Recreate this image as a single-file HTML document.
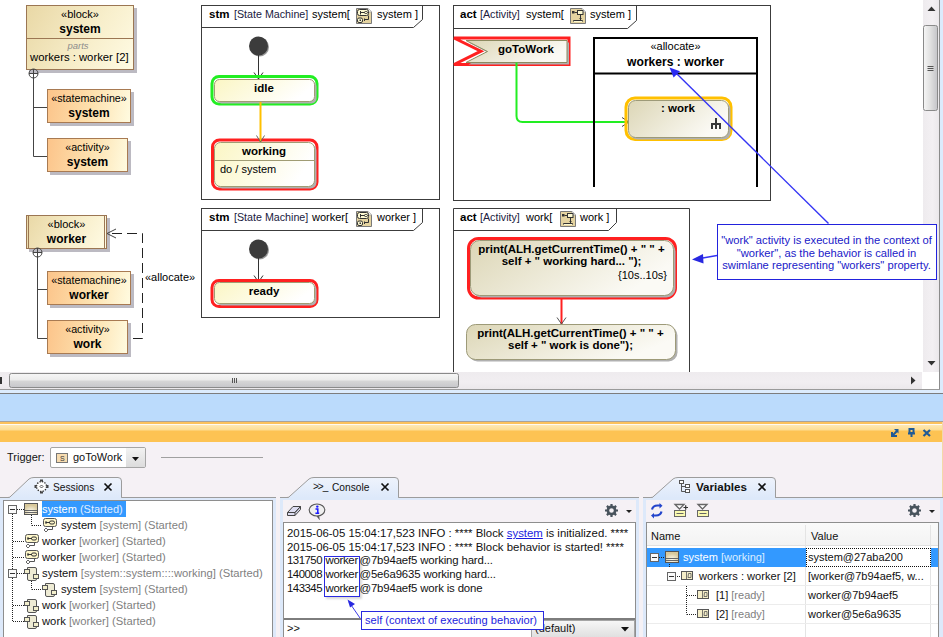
<!DOCTYPE html>
<html><head><meta charset="utf-8">
<style>
*{box-sizing:border-box}
html,body{margin:0;padding:0}
body{width:943px;height:637px;overflow:hidden;position:relative;background:#f5f1f5;font-family:"Liberation Sans",sans-serif;color:#000}
.a{position:absolute}
.t{position:absolute;white-space:nowrap;line-height:1}
.blk{position:absolute;border:1px solid #9b7653;background:linear-gradient(120deg,#e9d8a6 0%,#f8efcc 60%,#fffbe4 100%);box-shadow:3px 3px 0 #bcbac2}
.org{position:absolute;border:1px solid #a87a52;background:linear-gradient(100deg,#fcc48a 0%,#fde2b0 55%,#fffbe0 100%);box-shadow:3px 3px 0 #bcbac2}
.st{position:absolute;border:1px solid #9a9a7a;border-radius:6px;background:linear-gradient(100deg,#f4efbf 0%,#fbf8da 60%,#ffffff 100%);box-shadow:2px 2px 0 #a8a8a8}
.act{position:absolute;border:1px solid #9d9a78;border-radius:8px;background:linear-gradient(110deg,#e0dbbd 0%,#f0ecd8 60%,#fbfaf4 100%);box-shadow:2px 2px 0 #a8a8a8}
.frm{position:absolute;border:1px solid #444;background:transparent}
.c{text-align:center}
.b{font-weight:bold}
</style></head><body>
<!-- diagram canvas -->
<div class="a" style="left:0;top:0;width:923px;height:373px;background:#fff"></div>

<!-- block system -->
<div class="blk" style="left:26px;top:5px;width:108px;height:65px"></div>
<div class="a" style="left:26px;top:38px;width:108px;height:1px;background:#9b7653"></div>
<div class="t c" style="left:26px;top:9px;width:108px;font-size:11px">«block»</div>
<div class="t c b" style="left:26px;top:23px;width:108px;font-size:12px">system</div>
<div class="t c" style="left:24px;top:41px;width:108px;font-size:9.5px;font-style:italic;color:#8c8c8c">parts</div>
<div class="t" style="left:30px;top:52px;font-size:11.3px">workers : worker [2]</div>

<!-- statemachine system -->
<div class="org" style="left:47px;top:89px;width:84px;height:34px"></div>
<div class="t c" style="left:47px;top:93px;width:84px;font-size:10.7px">«statemachine»</div>
<div class="t c b" style="left:47px;top:107px;width:84px;font-size:12px">system</div>
<!-- activity system -->
<div class="org" style="left:47px;top:138px;width:81px;height:34px"></div>
<div class="t c" style="left:47px;top:142px;width:81px;font-size:10.7px">«activity»</div>
<div class="t c b" style="left:47px;top:156px;width:81px;font-size:12px">system</div>

<!-- block worker -->
<div class="blk" style="left:26px;top:215px;width:81px;height:34px"></div>
<div class="a" style="left:28px;top:216px;width:1px;height:32px;background:#9b7653"></div><div class="a" style="left:104px;top:216px;width:1px;height:32px;background:#9b7653"></div>
<div class="t c" style="left:26px;top:219px;width:81px;font-size:11px">«block»</div>
<div class="t c b" style="left:26px;top:233px;width:81px;font-size:12px">worker</div>
<!-- statemachine worker -->
<div class="org" style="left:47px;top:271px;width:84px;height:34px"></div>
<div class="t c" style="left:47px;top:275px;width:84px;font-size:10.7px">«statemachine»</div>
<div class="t c b" style="left:47px;top:289px;width:84px;font-size:12px">worker</div>
<!-- activity work -->
<div class="org" style="left:47px;top:320px;width:81px;height:34px"></div>
<div class="t c" style="left:47px;top:324px;width:81px;font-size:10.7px">«activity»</div>
<div class="t c b" style="left:47px;top:338px;width:81px;font-size:12px">work</div>
<div class="t" style="left:145px;top:272px;font-size:11px">«allocate»</div>

<svg class="a" style="left:0;top:0" width="943" height="373">
  <!-- containment lines -->
  <g stroke="#444" fill="none" stroke-width="1">
    <circle cx="33.5" cy="73.5" r="4.5"/>
    <line x1="29" y1="73.5" x2="38" y2="73.5"/>
    <line x1="33.5" y1="69" x2="33.5" y2="156.5"/>
    <line x1="33.5" y1="107.5" x2="47" y2="107.5"/>
    <line x1="33.5" y1="156.5" x2="47" y2="156.5"/>
    <circle cx="37.5" cy="252.5" r="4.5"/>
    <line x1="33" y1="252.5" x2="42" y2="252.5"/>
    <line x1="37.5" y1="248" x2="37.5" y2="338.5"/>
    <line x1="37.5" y1="289.5" x2="47" y2="289.5"/>
    <line x1="37.5" y1="338.5" x2="47" y2="338.5"/>
    <path d="M133 338.5 H142.5 V233.5 H108" stroke-dasharray="10,5" stroke="#222"/>
    <path d="M116 229 L107 233.5 L116 238"/>
  </g>
</svg>

<!-- ===== frames ===== -->
<svg class="a" style="left:0;top:0" width="923" height="373">
  <g fill="none" stroke="#3c3c3c" stroke-width="1">
    <rect x="201.5" y="5.5" width="238" height="194"/>
    <path d="M201.5 27.5 H413.5 L422.5 19.5 V5.5"/>
    <rect x="201.5" y="208.5" width="238" height="109"/>
    <path d="M201.5 230.5 H413.5 L422.5 222.5 V208.5"/>
    <rect x="453.5" y="5.5" width="317" height="195"/>
    <path d="M453.5 28.5 H627.5 L636.5 20.5 V5.5"/>
    <path d="M453.5 372 V208.5 H689.5 V372"/>
    <path d="M453.5 230.5 H608.5 L616.5 222.5 V208.5"/>
  </g>
</svg>
<div class="t b" style="left:209px;top:9px;font-size:11.5px">stm</div>
<div class="t" style="left:234px;top:9px;font-size:10.7px;color:#202040">[State Machine]</div>
<div class="t" style="left:312px;top:9px;font-size:11px">system[</div>
<div class="t" style="left:377px;top:9px;font-size:11px">system ]</div>
<div class="t b" style="left:209px;top:212px;font-size:11.5px">stm</div>
<div class="t" style="left:234px;top:212px;font-size:10.7px;color:#202040">[State Machine]</div>
<div class="t" style="left:312px;top:212px;font-size:11px">worker[</div>
<div class="t" style="left:377px;top:212px;font-size:11px">worker ]</div>
<div class="t b" style="left:460px;top:9px;font-size:11.5px">act</div>
<div class="t" style="left:480px;top:9px;font-size:10.7px;color:#202040">[Activity]</div>
<div class="t" style="left:526px;top:9px;font-size:11px">system[</div>
<div class="t" style="left:590px;top:9px;font-size:11px">system ]</div>
<div class="t b" style="left:460px;top:212px;font-size:11.5px">act</div>
<div class="t" style="left:480px;top:212px;font-size:10.7px;color:#202040">[Activity]</div>
<div class="t" style="left:526px;top:212px;font-size:11px">work[</div>
<div class="t" style="left:580px;top:212px;font-size:11px">work ]</div>
<svg class="a" style="left:356px;top:8px" width="16" height="16" viewBox="0 0 16 16"><path d="M0.5 0.5 H12 L15.5 4 V15.5 H0.5 Z" fill="#e4d3a0" stroke="#7a7a7a"/><path d="M12 0.5 V4 H15.5" fill="#fff" stroke="#aaa"/><rect x="1.5" y="1.5" width="11" height="6" rx="2" fill="#fdf9d2" stroke="#333"/><path d="M4.5 3 V6.5 M4.5 4.5 H8.5" stroke="#333" fill="none"/><rect x="8.5" y="3.5" width="3" height="2" rx="1" fill="none" stroke="#333"/><path d="M12.5 7.5 V11.5 H8" stroke="#333" fill="none"/><rect x="1.5" y="10" width="5" height="4.5" rx="1.5" fill="#fdf9d2" stroke="#333"/><rect x="3.5" y="11.5" width="1.5" height="1.5" fill="#333"/><path d="M8.5 10.5 V13" stroke="#333"/></svg><svg class="a" style="left:356px;top:211px" width="16" height="16" viewBox="0 0 16 16"><path d="M0.5 0.5 H12 L15.5 4 V15.5 H0.5 Z" fill="#e4d3a0" stroke="#7a7a7a"/><path d="M12 0.5 V4 H15.5" fill="#fff" stroke="#aaa"/><rect x="1.5" y="1.5" width="11" height="6" rx="2" fill="#fdf9d2" stroke="#333"/><path d="M4.5 3 V6.5 M4.5 4.5 H8.5" stroke="#333" fill="none"/><rect x="8.5" y="3.5" width="3" height="2" rx="1" fill="none" stroke="#333"/><path d="M12.5 7.5 V11.5 H8" stroke="#333" fill="none"/><rect x="1.5" y="10" width="5" height="4.5" rx="1.5" fill="#fdf9d2" stroke="#333"/><rect x="3.5" y="11.5" width="1.5" height="1.5" fill="#333"/><path d="M8.5 10.5 V13" stroke="#333"/></svg><svg class="a" style="left:570px;top:8px" width="16" height="16" viewBox="0 0 16 16"><path d="M0.5 0.5 H12 L15.5 4 V15.5 H0.5 Z" fill="#e4d3a0" stroke="#7a7a7a"/><path d="M12 0.5 V4 H15.5" fill="#fff" stroke="#aaa"/><rect x="2" y="3" width="2.5" height="2.5" fill="#333"/><path d="M4.5 4.5 H7.5" stroke="#333"/><rect x="7.5" y="2.5" width="5.5" height="4" fill="#fdf9d2" stroke="#333"/><path d="M10.5 6.5 V12 M9.5 10.5 H11.5" stroke="#333"/><path d="M3.5 13.5 V12.5 H12.5 V13.5" fill="#fdf9d2" stroke="#333"/><rect x="4" y="13" width="8" height="1" fill="#fdf9d2"/></svg><svg class="a" style="left:560px;top:211px" width="16" height="16" viewBox="0 0 16 16"><path d="M0.5 0.5 H12 L15.5 4 V15.5 H0.5 Z" fill="#e4d3a0" stroke="#7a7a7a"/><path d="M12 0.5 V4 H15.5" fill="#fff" stroke="#aaa"/><rect x="2" y="3" width="2.5" height="2.5" fill="#333"/><path d="M4.5 4.5 H7.5" stroke="#333"/><rect x="7.5" y="2.5" width="5.5" height="4" fill="#fdf9d2" stroke="#333"/><path d="M10.5 6.5 V12 M9.5 10.5 H11.5" stroke="#333"/><path d="M3.5 13.5 V12.5 H12.5 V13.5" fill="#fdf9d2" stroke="#333"/><rect x="4" y="13" width="8" height="1" fill="#fdf9d2"/></svg>
<!-- ===== stm system content ===== -->
<svg class="a" style="left:0;top:0" width="923" height="373">
  <!-- initial nodes -->
  <circle cx="259.5" cy="47" r="9.5" fill="#999"/>
  <circle cx="258.5" cy="46" r="9.5" fill="#3c3c3c"/>
  <line x1="258.5" y1="55" x2="258.5" y2="79" stroke="#333"/>
  <path d="M254 72.5 L258.5 79 L263 72.5" fill="none" stroke="#333"/>
  <circle cx="259.5" cy="250" r="9.5" fill="#999"/>
  <circle cx="258.5" cy="249" r="9.5" fill="#3c3c3c"/>
  <line x1="258.5" y1="258" x2="258.5" y2="282" stroke="#333"/>
  <path d="M254 275.5 L258.5 282 L263 275.5" fill="none" stroke="#333"/>
  <!-- idle -->
  <defs>
    <linearGradient id="gst" x1="0" y1="0" x2="1" y2="0.3"><stop offset="0" stop-color="#fbf6c4"/><stop offset="0.55" stop-color="#fdfbe4"/><stop offset="1" stop-color="#ffffff"/></linearGradient>
    <linearGradient id="gact" x1="0" y1="0" x2="1" y2="0.4"><stop offset="0" stop-color="#dcd6b6"/><stop offset="0.6" stop-color="#efecdc"/><stop offset="1" stop-color="#fbfaf5"/></linearGradient>
  </defs>
  <rect x="212" y="76.5" width="105" height="27.5" rx="7" fill="none" stroke="#22ee22" stroke-width="3"/>
  <rect x="216.5" y="81.5" width="100" height="22" rx="5" fill="#b0b0b0"/>
  <rect x="214.5" y="79.5" width="100" height="22" rx="5" fill="url(#gst)" stroke="#a09c74"/>
  <!-- working -->
  <rect x="212.5" y="140" width="104.5" height="49" rx="7" fill="none" stroke="#ff2020" stroke-width="3"/>
  <rect x="216.5" y="144.5" width="100" height="44" rx="6" fill="#b0b0b0"/>
  <rect x="214.5" y="142.5" width="100" height="44" rx="6" fill="url(#gst)" stroke="#a09c74"/>
  <line x1="214.5" y1="160.5" x2="314.5" y2="160.5" stroke="#a09c74"/>
  <line x1="260.5" y1="102" x2="260.5" y2="142" stroke="#ffc000" stroke-width="2"/>
  <path d="M256.5 135.5 L260.5 142 L264.5 135.5" fill="none" stroke="#666"/>
  <!-- ready -->
  <rect x="212" y="280.5" width="105" height="26" rx="7" fill="none" stroke="#ff2020" stroke-width="3"/>
  <rect x="216.5" y="284.5" width="100" height="21" rx="5" fill="#b0b0b0"/>
  <rect x="214.5" y="282.5" width="100" height="21" rx="5" fill="url(#gst)" stroke="#a09c74"/>

  <!-- goToWork -->
  <path d="M454 38 H569 V64.5 H454 L481 51.2 Z" fill="none" stroke="#ff2020" stroke-width="3"/>
  <path d="M468.5 42.5 H569 V64.5 H468.5 L489.5 53.5 Z" fill="#b0b0b0"/>
  <path d="M466 40.5 H567 V62.5 H466 L487.5 51.5 Z" fill="url(#gact)" stroke="#8c8a60"/>
  <!-- green flow -->
  <path d="M516.5 62.5 V116 Q516.5 122 522.5 122 H628" fill="none" stroke="#22ee22" stroke-width="2"/>
  <path d="M622 117.5 L629 122 L622 126.5" fill="none" stroke="#444"/>
  <!-- swimlane -->
  <path d="M594 187 V38 H757 V187 M594 73.5 H757" fill="none" stroke="#000" stroke-width="2"/>
  <!-- :work -->
  <rect x="626" y="98" width="105" height="41.5" rx="9" fill="none" stroke="#ffc000" stroke-width="3"/>
  <rect x="630.5" y="102.5" width="100" height="37" rx="7" fill="#b0b0b0"/>
  <rect x="628.5" y="100.5" width="100" height="37" rx="7" fill="url(#gact)" stroke="#9d9a78"/>
  <g fill="#383838"><rect x="715" y="118" width="2" height="11"/><rect x="711" y="123" width="10" height="2"/><rect x="711" y="123" width="2" height="6"/><rect x="719" y="123" width="2" height="6"/></g>
  <!-- blue anchor -->
  <line x1="828.5" y1="223.5" x2="676" y2="73" stroke="#3434f4" stroke-width="1.4"/>
  <path d="M669.5 67.5 L680 71.2 L673.6 77.6 Z" fill="#2a2af2"/>

  <!-- work activity -->
  <rect x="468.5" y="238.5" width="207" height="59.5" rx="10" fill="none" stroke="#ff2020" stroke-width="3"/>
  <rect x="472.5" y="242.5" width="203" height="55" rx="9" fill="#b0b0b0"/>
  <rect x="470.5" y="240.5" width="203" height="55" rx="9" fill="url(#gact)" stroke="#9d9a78"/>
  <line x1="561.5" y1="299" x2="561.5" y2="324" stroke="#ff2020" stroke-width="2"/>
  <path d="M557 317.5 L561.5 324 L566 317.5" fill="none" stroke="#555"/>
  <rect x="468.5" y="326.5" width="209" height="35" rx="9" fill="#b0b0b0"/>
  <rect x="466.5" y="324.5" width="209" height="35" rx="9" fill="url(#gact)" stroke="#9d9a78"/>
  <!-- note -->
  <line x1="717" y1="255.5" x2="697" y2="259" stroke="#3434f4" stroke-width="1.3"/>
  <path d="M692 259.5 L703 254 L703.5 263.5 Z" fill="#2828e0"/>
</svg>
<div class="t c b" style="left:214px;top:83px;width:100px;font-size:11.5px">idle</div>
<div class="t c b" style="left:214px;top:146px;width:100px;font-size:11.5px">working</div>
<div class="t" style="left:220px;top:164px;font-size:11px">do / system</div>
<div class="t c b" style="left:214px;top:286px;width:100px;font-size:11.5px">ready</div>
<div class="t b" style="left:498px;top:44px;font-size:11.5px">goToWork</div>
<div class="t c" style="left:594px;top:41px;width:163px;font-size:11px">«allocate»</div>
<div class="t c b" style="left:594px;top:55.5px;width:163px;font-size:12.1px">workers : worker</div>
<div class="t c b" style="left:628px;top:103px;width:100px;font-size:11.5px">: work</div>
<div class="t c b" style="left:470px;top:243px;width:203px;font-size:11.5px;line-height:12px">print(ALH.getCurrentTime() + " " +<br>self + " working hard... ");</div>
<div class="t" style="left:618px;top:270px;font-size:11px">{10s..10s}</div>
<div class="t c b" style="left:466px;top:327px;width:209px;font-size:11.5px;line-height:12px">print(ALH.getCurrentTime() + " " +<br>self + " work is done");</div>

<!-- ===== scrollbars ===== -->
<div class="a" style="left:923px;top:0;width:16px;height:372px;background:linear-gradient(90deg,#eeebee,#f3f0f3 60%,#ebe8eb)"></div>
<svg class="a" style="left:923px;top:0" width="16" height="372">
  <path d="M4.5 11 L8.5 6.5 L12.5 11 Z" fill="#333"/>
  <rect x="0.5" y="25.5" width="14" height="85" rx="2" fill="url(#gthumbv)" stroke="#8a8a8a"/>
  <defs><linearGradient id="gthumbv" x1="0" x2="1"><stop offset="0" stop-color="#f6f6f6"/><stop offset="0.5" stop-color="#e0e0e0"/><stop offset="1" stop-color="#c4c4c8"/></linearGradient>
  <linearGradient id="gthumbh" x1="0" x2="0" y1="0" y2="1"><stop offset="0" stop-color="#f6f6f6"/><stop offset="0.45" stop-color="#ececec"/><stop offset="0.55" stop-color="#d6d6d6"/><stop offset="1" stop-color="#c6c6ca"/></linearGradient></defs>
  <path d="M4.5 66.5 H10.5 M4.5 68.5 H10.5 M4.5 70.5 H10.5" stroke="#555"/>
  <path d="M4.5 361 L8.5 365.5 L12.5 361 Z" fill="#333"/>
</svg>
<div class="a" style="left:0;top:372px;width:922px;height:17px;background:linear-gradient(180deg,#eeebee,#f1eef1 60%,#ebe8eb)"></div>
<div class="a" style="left:922px;top:372px;width:17px;height:17px;background:#fff"></div>
<svg class="a" style="left:0;top:372px" width="922" height="17">
  <rect x="0" y="5" width="2" height="7" fill="#333"/>
  <rect x="9.5" y="1.5" width="449" height="14" rx="2" fill="url(#gthumbh)" stroke="#8a8a8a"/>
  <path d="M232.5 6 V11 M234.5 6 V11 M236.5 6 V11" stroke="#555"/>
  <path d="M911 4.5 L915.5 8.5 L911 12.5 Z" fill="#333"/>
</svg>
<div class="a" style="left:717px;top:224px;width:220px;height:56px;background:#fff;border:1px solid #2222dd"></div>
<div class="t c" style="left:717px;top:234px;width:219px;font-size:11.2px;line-height:12.5px;color:#2020c8">"work" activity is executed in the context of<br>"worker", as the behavior is called in<br>swimlane representing "workers" property.</div>
<div class="a" style="left:939px;top:0;width:1px;height:390px;background:#8c8c8c"></div>
<div class="a" style="left:940px;top:0;width:3px;height:390px;background:#dcebfc"></div>
<div class="a" style="left:0;top:389px;width:940px;height:1px;background:#9a9a9a"></div>
<div class="a" style="left:0;top:390px;width:943px;height:3px;background:#dcecfd"></div>
<div class="a" style="left:0;top:393px;width:943px;height:1px;background:#7d7d7d"></div>
<div class="a" style="left:0;top:394px;width:943px;height:27px;background:#bbdbfc"></div>
<div class="a" style="left:0;top:421px;width:943px;height:1px;background:#a9a39a"></div>
<div class="a" style="left:0;top:422px;width:943px;height:20px;background:linear-gradient(180deg,#fcc25c 0,#fcc25c 2px,#fffaf0 2px,#fffaf0 3px,#fee8b4 3px,#fddd92 8px,#fdc353 9px,#fdc353 100%)"></div>
<!-- panel buttons -->
<svg class="a" style="left:880px;top:420px" width="63" height="25">
  <g fill="none" stroke="#1f5a96" stroke-width="2">
    <path d="M12 12 V16 H17"/>
    <path d="M13 15 L17 11"/>
    <path d="M28.5 9 H34.5 M29.5 9 V13 H33.5 V9 M28 13.5 H35 M31.5 13.5 V17"/>
    <path d="M43.5 10 L50 16 M50 10 L43.5 16" stroke-width="2.2"/>
  </g>
  <path d="M14 9 H18.5 V13.5 Z" fill="#1f5a96"/>
</svg>
<div class="a" style="left:942px;top:422px;width:1px;height:215px;background:#f3d9a8"></div>
<!-- trigger row -->
<div class="t" style="left:7px;top:452px;font-size:11px;color:#111">Trigger:</div>
<div class="a" style="left:50px;top:447px;width:96px;height:21px;border:1px solid #a5a5a5;border-radius:2px;background:#fff"></div>
<div class="a" style="left:126px;top:448px;width:19px;height:19px;background:linear-gradient(180deg,#f2f2f2,#dcdcdc)"></div>
<svg class="a" style="left:126px;top:448px" width="19" height="19"><path d="M6 9 L13 9 L9.5 13 Z" fill="#111"/></svg>
<svg class="a" style="left:56px;top:453px" width="13" height="11"><rect x="0.5" y="0.5" width="11" height="9" fill="#f7dcb0" stroke="#777"/><text x="4" y="8" font-size="7" font-family="Liberation Sans" fill="#333">S</text></svg>
<div class="t" style="left:73px;top:452px;font-size:11px;color:#111">goToWork</div>
<div class="a" style="left:161px;top:457px;width:102px;height:1px;background:#a0a0a0"></div>

<!-- ===== views ===== -->
<!-- Sessions view -->
<div class="a" style="left:0;top:497px;width:276px;height:140px;background:#dde9fa;border-top:1px solid #9c9c9c"></div>
<div class="a" style="left:3px;top:500px;width:270px;height:137px;background:#fff;border:1px solid #8e8e8e;border-bottom:none"></div>
<!-- Console view -->
<div class="a" style="left:280px;top:497px;width:359px;height:140px;background:#dde9fa;border-top:1px solid #9c9c9c"></div>
<div class="a" style="left:283px;top:500px;width:353px;height:22px;background:#f5f1f5"></div>
<div class="a" style="left:283px;top:522px;width:353px;height:115px;background:#fff;border:1px solid #8e8e8e;border-bottom:none"></div>
<div class="a" style="left:284px;top:618px;width:351px;height:2px;background:#7d7d7d"></div>
<!-- Variables view -->
<div class="a" style="left:643px;top:497px;width:300px;height:140px;background:#dde9fa;border-top:1px solid #9c9c9c"></div>
<div class="a" style="left:646px;top:500px;width:294px;height:22px;background:#f5f1f5"></div>
<div class="a" style="left:646px;top:522px;width:293px;height:115px;background:#fff;border:1px solid #8e8e8e;border-bottom:none"></div>

<!-- tabs -->
<svg class="a" style="left:0;top:476px" width="943" height="24">
  <defs><linearGradient id="gtab" x1="0" x2="0" y1="0" y2="1"><stop offset="0" stop-color="#eef3fc"/><stop offset="1" stop-color="#dde9fa"/></linearGradient></defs>
  <path d="M9 22 Q10 21 11 20 L29 3 Q31 1.5 34 1.5 H118 Q121.5 1.5 121.5 5 V22 Z" fill="url(#gtab)"/>
  <path d="M0 21.5 H8 Q10 21.5 11 20 L29 3 Q31 1.5 34 1.5 H118 Q121.5 1.5 121.5 5 V21.5 H276" fill="none" stroke="#9c9c9c"/>
  <path d="M288 22 L309 3 Q311 1.5 314 1.5 H395 Q398.5 1.5 398.5 5 V22 Z" fill="url(#gtab)"/>
  <path d="M280 21.5 H287 Q289 21.5 290 20 L309 3 Q311 1.5 314 1.5 H395 Q398.5 1.5 398.5 5 V21.5 H639" fill="none" stroke="#9c9c9c"/>
  <path d="M652 22 L673 3 Q675 1.5 678 1.5 H772 Q775.5 1.5 775.5 5 V22 Z" fill="url(#gtab)"/>
  <path d="M643 21.5 H651 Q653 21.5 654 20 L673 3 Q675 1.5 678 1.5 H772 Q775.5 1.5 775.5 5 V21.5 H943" fill="none" stroke="#9c9c9c"/>
</svg>
<div class="a" style="left:10px;top:498px;width:112px;height:2px;background:#dde9fa"></div>
<div class="a" style="left:289px;top:498px;width:110px;height:0px;background:#dde9fa"></div>
<!-- Sessions tab -->
<svg class="a" style="left:34px;top:479px" width="16" height="16"><circle cx="7.5" cy="7.5" r="5" fill="#fff" stroke="#333" stroke-width="1.3" stroke-dasharray="1.4,1.2"/><g fill="#444"><rect x="6" y="0.5" width="3" height="2"/><rect x="6" y="12.5" width="3" height="2"/><rect x="0.5" y="6" width="2" height="3"/><rect x="12.5" y="6" width="2" height="3"/></g><path d="M7.5 6 L9 7.5 L7.5 9 L6 7.5 Z" fill="none" stroke="#444" stroke-width="0.9"/></svg>
<div class="t" style="left:53px;top:482.8px;font-size:10.2px;color:#111">Sessions</div>
<svg class="a" style="left:103px;top:482px" width="10" height="10"><path d="M1.5 1.5 L8.5 8.5 M8.5 1.5 L1.5 8.5" stroke="#111" stroke-width="1.7"/></svg>
<!-- Console tab -->
<div class="t" style="left:313px;top:482px;font-size:10px;color:#111;letter-spacing:-1px">&gt;&gt;_</div>
<div class="t" style="left:332px;top:482.8px;font-size:10.2px;color:#111">Console</div>
<svg class="a" style="left:380px;top:482px" width="10" height="10"><path d="M1.5 1.5 L8.5 8.5 M8.5 1.5 L1.5 8.5" stroke="#111" stroke-width="1.7"/></svg>
<!-- Variables tab -->
<svg class="a" style="left:679px;top:480px" width="12" height="14"><path d="M2.5 1 V11.5 H6 M2.5 6.5 H6" fill="none" stroke="#555"/><rect x="0.5" y="0.5" width="4" height="3" fill="#fff" stroke="#555"/><rect x="6.5" y="4.5" width="4" height="3" fill="#fff" stroke="#555"/><rect x="6.5" y="9.5" width="4" height="3" fill="#fff" stroke="#555"/></svg>
<div class="t b" style="left:696px;top:481px;font-size:11.6px;color:#111">Variables</div>
<svg class="a" style="left:757px;top:482px" width="10" height="10"><path d="M1.5 1.5 L8.5 8.5 M8.5 1.5 L1.5 8.5" stroke="#111" stroke-width="1.7"/></svg>
<svg class="a" style="left:0;top:495px" width="280" height="142"><g stroke="#222" stroke-dasharray="1,1" fill="none"><path d="M12.5 19 V126.5 M13 126.5 H24"/><path d="M17 14.5 H24"/><path d="M13 46.5 H24 M13 62.5 H24 M13 110.5 H24"/><path d="M31.5 20 V30.5 M32 30.5 H42"/><path d="M17 78.5 H24"/><path d="M31.5 84 V94.5 M32 94.5 H42"/></g></svg><svg class="a" style="left:8px;top:505px" width="9" height="9"><rect x="0.5" y="0.5" width="8" height="8" fill="#fafafa" stroke="#666"/><path d="M2 4.5 H7" stroke="#333"/></svg><svg class="a" style="left:8px;top:569px" width="9" height="9"><rect x="0.5" y="0.5" width="8" height="8" fill="#fafafa" stroke="#666"/><path d="M2 4.5 H7" stroke="#333"/></svg><svg class="a" style="left:24px;top:503px" width="15" height="13"><defs><radialGradient id="gbi24503" cx="0.5" cy="0.75" r="0.6"><stop offset="0" stop-color="#fffef5"/><stop offset="1" stop-color="#d8c89a"/></radialGradient></defs><rect x="0.5" y="0.5" width="13" height="11" fill="url(#gbi24503)" stroke="#555"/><path d="M1 7.5 H13 M1 9.5 H13" stroke="#666"/></svg><div class="a" style="left:42px;top:501px;width:84px;height:16px;background:#3399ff"></div><div class="t" style="left:42px;top:504px;font-size:11px;color:#fff">system <span style="color:#e0efff">(Started)</span></div><svg class="a" style="left:42px;top:518px" width="16" height="16"><rect x="1.5" y="0.5" width="13" height="8" rx="2" fill="#fdf6c8" stroke="#555"/><path d="M3.5 4.5 H8 M4 3 V6" stroke="#333"/><rect x="7.5" y="3" width="5" height="3" rx="1.5" fill="none" stroke="#333"/><path d="M10.5 8.5 V11.5 H6" stroke="#555" fill="none"/><path d="M4 10 L6 12 L4 14 L2 12 Z" fill="#fff" stroke="#666"/></svg><div class="t" style="left:61px;top:520px;font-size:11.2px;color:#111">system <span style="color:#7f7f7f">[system] (Started)</span></div><svg class="a" style="left:24px;top:534px" width="16" height="16"><rect x="1.5" y="0.5" width="13" height="8" rx="2" fill="#fdf6c8" stroke="#555"/><path d="M3.5 4.5 H8 M4 3 V6" stroke="#333"/><rect x="7.5" y="3" width="5" height="3" rx="1.5" fill="none" stroke="#333"/><path d="M10.5 8.5 V11.5 H6" stroke="#555" fill="none"/><path d="M4 10 L6 12 L4 14 L2 12 Z" fill="#fff" stroke="#666"/></svg><div class="t" style="left:42px;top:536px;font-size:11.25px;color:#111">worker <span style="color:#7f7f7f">[worker] (Started)</span></div><svg class="a" style="left:24px;top:550px" width="16" height="16"><rect x="1.5" y="0.5" width="13" height="8" rx="2" fill="#fdf6c8" stroke="#555"/><path d="M3.5 4.5 H8 M4 3 V6" stroke="#333"/><rect x="7.5" y="3" width="5" height="3" rx="1.5" fill="none" stroke="#333"/><path d="M10.5 8.5 V11.5 H6" stroke="#555" fill="none"/><path d="M4 10 L6 12 L4 14 L2 12 Z" fill="#fff" stroke="#666"/></svg><div class="t" style="left:42px;top:552px;font-size:11.25px;color:#111">worker <span style="color:#7f7f7f">[worker] (Started)</span></div><svg class="a" style="left:24px;top:566px" width="15" height="15"><path d="M3.5 1.5 H11 Q12.5 1.5 12.5 3 V13 Q12.5 14.5 11 14.5 H5 Q3.5 14.5 3.5 13 Z" fill="#eeebd4" stroke="#555"/><rect x="0.5" y="3.5" width="5" height="4" fill="#f3efcc" stroke="#555"/><rect x="9.5" y="8.5" width="5" height="4" fill="#f3efcc" stroke="#555"/></svg><div class="t" style="left:42px;top:568px;font-size:11.25px;color:#111">system <span style="color:#7f7f7f">[system::system::::working] (Started)</span></div><svg class="a" style="left:42px;top:582px" width="15" height="15"><path d="M3.5 1.5 H11 Q12.5 1.5 12.5 3 V13 Q12.5 14.5 11 14.5 H5 Q3.5 14.5 3.5 13 Z" fill="#eeebd4" stroke="#555"/><rect x="0.5" y="3.5" width="5" height="4" fill="#f3efcc" stroke="#555"/><rect x="9.5" y="8.5" width="5" height="4" fill="#f3efcc" stroke="#555"/></svg><div class="t" style="left:61px;top:584px;font-size:11.2px;color:#111">system <span style="color:#7f7f7f">[system] (Started)</span></div><svg class="a" style="left:24px;top:598px" width="15" height="15"><path d="M3.5 1.5 H11 Q12.5 1.5 12.5 3 V13 Q12.5 14.5 11 14.5 H5 Q3.5 14.5 3.5 13 Z" fill="#eeebd4" stroke="#555"/><rect x="0.5" y="3.5" width="5" height="4" fill="#f3efcc" stroke="#555"/><rect x="9.5" y="8.5" width="5" height="4" fill="#f3efcc" stroke="#555"/></svg><div class="t" style="left:42px;top:600px;font-size:11.25px;color:#111">work <span style="color:#7f7f7f">[worker] (Started)</span></div><svg class="a" style="left:24px;top:614px" width="15" height="15"><path d="M3.5 1.5 H11 Q12.5 1.5 12.5 3 V13 Q12.5 14.5 11 14.5 H5 Q3.5 14.5 3.5 13 Z" fill="#eeebd4" stroke="#555"/><rect x="0.5" y="3.5" width="5" height="4" fill="#f3efcc" stroke="#555"/><rect x="9.5" y="8.5" width="5" height="4" fill="#f3efcc" stroke="#555"/></svg><div class="t" style="left:42px;top:616px;font-size:11.25px;color:#111">work <span style="color:#7f7f7f">[worker] (Started)</span></div>
<svg class="a" style="left:286px;top:504px" width="16" height="13"><path d="M1.5 8.5 L7 2.5 H14.5 L9 8.5 V11.5 H1.5 Z M1.5 8.5 H9 L14.5 2.5 V5.5 L9 11.5" fill="#dcdcf0" stroke="#444" stroke-linejoin="round"/></svg>
<svg class="a" style="left:307px;top:501px" width="20" height="19"><path d="M10 15 L12 17.5 L11.5 14.5" fill="#efefef" stroke="#555" stroke-width="1.1"/><ellipse cx="10" cy="9" rx="7.8" ry="6" fill="#efefef" stroke="#555" stroke-width="1.1"/><circle cx="10.3" cy="5.6" r="1.2" fill="#1a1aff"/><path d="M8.5 8 H10.8 V12.3 M8.4 12.3 H12.2" fill="none" stroke="#1a1aff" stroke-width="1.5"/></svg>
<svg class="a" style="left:604px;top:503px" width="32" height="16"><circle cx="7.5" cy="7.5" r="3.6" fill="none" stroke="#48535c" stroke-width="2.6"/><path d="M7.5 1 V3.5 M7.5 11.5 V14 M1 7.5 H3.5 M11.5 7.5 H14 M2.9 2.9 L4.6 4.6 M10.4 10.4 L12.1 12.1 M12.1 2.9 L10.4 4.6 M4.6 10.4 L2.9 12.1" stroke="#48535c" stroke-width="2.2"/><path d="M22 7 H28 L25 10 Z" fill="#222"/></svg>
<div class="t" style="left:287px;top:527px;font-size:11.4px;line-height:13.7px;color:#111">2015-06-05 15:04:17,523 INFO : **** Block <span style="color:#1a1ae0;text-decoration:underline">system</span> is initialized. ****<br>2015-06-05 15:04:17,523 INFO : **** Block behavior is started! ****</div>
<div class="t" style="left:287px;top:554.4px;font-size:11.4px;line-height:13.7px;color:#111;letter-spacing:-0.5px">131750<br>140008<br>143345</div>
<div class="t" style="left:325.5px;top:554.4px;font-size:11.4px;line-height:13.7px;color:#111;letter-spacing:-0.3px">worker<br>worker<br>worker</div><div class="t" style="left:359.5px;top:554.4px;font-size:11.4px;line-height:13.7px;color:#111;letter-spacing:-0.15px">@7b94aef5 working hard...<br>@5e6a9635 working hard...<br>@7b94aef5 work is done</div>
<div class="a" style="left:324px;top:556px;width:36px;height:41px;border:1px solid #2a2ae0;box-shadow:2px 2px 2px rgba(0,0,0,0.15)"></div>
<svg class="a" style="left:340px;top:594px" width="30" height="30"><path d="M20 24 L9 8" stroke="#3a3ae6"/><path d="M7.5 5.5 L15 10 L10 13.5 Z" fill="#2828e0"/></svg>
<div class="t" style="left:287px;top:623px;font-size:11px;color:#111">&gt;&gt;</div>
<div class="a" style="left:531px;top:620px;width:104px;height:17px;background:linear-gradient(180deg,#f6f6f6,#e0e0e0);border:1px solid #a5a5a5;border-bottom:none"></div>
<div class="t" style="left:535px;top:623px;font-size:11px;color:#111">(default)</div>
<svg class="a" style="left:620px;top:626px" width="10" height="8"><path d="M1 1 H9 L5 5.5 Z" fill="#111"/></svg>
<div class="a" style="left:361px;top:611px;width:183px;height:19px;background:#fff;border:1px solid #2a2ae0"></div>
<div class="t" style="left:365px;top:615px;font-size:11.1px;color:#2222dd">self (context of executing behavior)</div>

<svg class="a" style="left:650px;top:503px" width="14" height="16"><path d="M2 6.5 Q3 2.5 7.5 2.5 H10.5" fill="none" stroke="#2244cc" stroke-width="2.2"/><path d="M9.5 0 V5.5 L12.5 2.7 Z" fill="#2244cc"/><path d="M11.5 8.5 Q10.5 12.5 6 12.5 H3" fill="none" stroke="#2244cc" stroke-width="2.2"/><path d="M4 10 V15.5 L1 12.5 Z" fill="#2244cc"/></svg>
<svg class="a" style="left:673px;top:503px" width="18" height="16"><path d="M2 1.5 H11 L6.5 6 Z" fill="#fff" stroke="#666" stroke-width="1.3"/><rect x="1.5" y="7.5" width="11" height="6" fill="#fafab0" stroke="#666"/><path d="M3.5 10.5 H10.5" stroke="#666"/><path d="M10.5 4.5 H15 M12.7 2.3 V6.7" stroke="#333" stroke-width="1.2"/></svg>
<svg class="a" style="left:696px;top:503px" width="14" height="16"><path d="M2 1.5 H11 L6.5 6 Z" fill="#fff" stroke="#666" stroke-width="1.3"/><rect x="1.5" y="7.5" width="11" height="6" fill="#fafab0" stroke="#666"/><path d="M3.5 10.5 H10.5" stroke="#666"/></svg>
<svg class="a" style="left:907px;top:503px" width="32" height="16"><circle cx="7.5" cy="7.5" r="3.6" fill="none" stroke="#48535c" stroke-width="2.6"/><path d="M7.5 1 V3.5 M7.5 11.5 V14 M1 7.5 H3.5 M11.5 7.5 H14 M2.9 2.9 L4.6 4.6 M10.4 10.4 L12.1 12.1 M12.1 2.9 L10.4 4.6 M4.6 10.4 L2.9 12.1" stroke="#48535c" stroke-width="2.2"/><path d="M22 7 H28 L25 10 Z" fill="#222"/></svg>
<div class="a" style="left:647px;top:523px;width:291px;height:23px;background:linear-gradient(180deg,#fafafa,#f3f3f3);border-bottom:1px solid #e0e0e0"></div>
<div class="a" style="left:805px;top:525px;width:1px;height:112px;background:#e4e4e4"></div>
<div class="a" style="left:930px;top:525px;width:1px;height:112px;background:#e4e4e4"></div>
<div class="t" style="left:651px;top:531px;font-size:11px;color:#111">Name</div>
<div class="t" style="left:811px;top:531px;font-size:11px;color:#111">Value</div>
<div class="a" style="left:647px;top:548px;width:291px;height:19px;background:#3399ff"></div>
<div class="a" style="left:806px;top:548px;width:125px;height:19px;background:#fff;border:1px dotted #111"></div>
<div class="a" style="left:647px;top:585px;width:291px;height:1px;background:#ececec"></div>
<div class="a" style="left:647px;top:604px;width:291px;height:1px;background:#ececec"></div>
<div class="a" style="left:647px;top:623px;width:291px;height:1px;background:#ececec"></div>
<svg class="a" style="left:640px;top:545px" width="80" height="92"><g stroke="#222" stroke-dasharray="1,1" fill="none"><path d="M659.5 0" /><path d="M19 12.5 H24"/><path d="M29.5 19 V23"/><path d="M37 31.5 H41"/><path d="M46.5 41 V69.5 M47 69.5 H57 M47 50.5 H57"/></g></svg>
<svg class="a" style="left:650px;top:553px" width="9" height="9"><rect x="0.5" y="0.5" width="8" height="8" fill="#fafafa" stroke="#666"/><path d="M2 4.5 H7" stroke="#333"/></svg><svg class="a" style="left:665px;top:551px" width="15" height="13"><defs><radialGradient id="gbi665551" cx="0.5" cy="0.75" r="0.6"><stop offset="0" stop-color="#fffef5"/><stop offset="1" stop-color="#d8c89a"/></radialGradient></defs><rect x="0.5" y="0.5" width="13" height="11" fill="url(#gbi665551)" stroke="#555"/><path d="M1 7.5 H13 M1 9.5 H13" stroke="#666"/></svg><div class="t" style="left:683px;top:552px;font-size:11px;color:#fff">system <span style="color:#dceeff">[working]</span></div><div class="t" style="left:808px;top:552px;font-size:11px;color:#111">system@27aba200</div><svg class="a" style="left:667px;top:572px" width="9" height="9"><rect x="0.5" y="0.5" width="8" height="8" fill="#fafafa" stroke="#666"/><path d="M2 4.5 H7" stroke="#333"/></svg><svg class="a" style="left:681px;top:571px" width="13" height="10"><rect x="0.5" y="0.5" width="11" height="8" fill="#f5eec8" stroke="#555"/><path d="M5.5 1 V8 M7 6.5 H10 V2.5 H7.5 Z" stroke="#555" fill="none" stroke-width="0.8"/></svg><div class="t" style="left:699px;top:571px;font-size:11.1px;color:#111">workers : worker [2]</div><div class="t" style="left:808px;top:571px;font-size:11px;color:#111">[worker@7b94aef5, w...</div><svg class="a" style="left:697px;top:590px" width="13" height="10"><rect x="0.5" y="0.5" width="11" height="8" fill="#f5eec8" stroke="#555"/><path d="M5.5 1 V8 M7 6.5 H10 V2.5 H7.5 Z" stroke="#555" fill="none" stroke-width="0.8"/></svg><div class="t" style="left:716px;top:590px;font-size:11px;color:#111">[1] <span style="color:#7f7f7f">[ready]</span></div><div class="t" style="left:808px;top:590px;font-size:11px;color:#111">worker@7b94aef5</div><svg class="a" style="left:697px;top:609px" width="13" height="10"><rect x="0.5" y="0.5" width="11" height="8" fill="#f5eec8" stroke="#555"/><path d="M5.5 1 V8 M7 6.5 H10 V2.5 H7.5 Z" stroke="#555" fill="none" stroke-width="0.8"/></svg><div class="t" style="left:716px;top:609px;font-size:11px;color:#111">[2] <span style="color:#7f7f7f">[ready]</span></div><div class="t" style="left:808px;top:609px;font-size:11px;color:#111">worker@5e6a9635</div></body></html>
